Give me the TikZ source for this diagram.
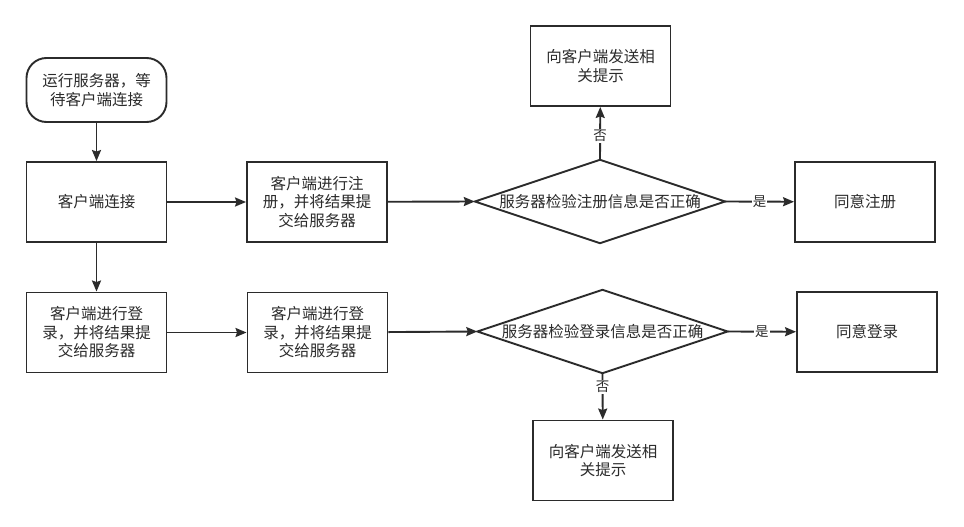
\documentclass[tikz,border=0pt]{standalone}
\usepackage{fontspec}
\newfontfamily\cjk{Noto Sans CJK SC}
\usetikzlibrary{arrows.meta}
\definecolor{ink}{HTML}{2B2B2B}
\tikzset{
  box/.style={draw=ink, line width=1.9pt, text=ink, align=center, minimum width=140pt, minimum height=80pt, inner sep=0pt, font=\cjk\fontsize{15.5}{18.5}\selectfont},
  startbox/.style={box, rounded corners=20pt, minimum height=64pt},
  dia/.style={draw=none, text=ink, align=center, minimum width=250pt, minimum height=83pt, inner sep=0pt, font=\cjk\fontsize{15.5}{18.5}\selectfont},
  conn/.style={draw=ink, line width=1.9pt, -{Stealth[length=11pt,width=9pt,inset=1.5pt]}},
  lab/.style={fill=white, text=ink, inner sep=1pt, font=\cjk\fontsize{13.5}{15}\selectfont}
}
\begin{document}
\begin{tikzpicture}[x=1pt,y=-1pt]
\useasboundingbox[fill=white] (0,0) rectangle (964,527);
\node[startbox] (start) at (96.5,90) {运行服务器，等\\待客户端连接};
\node[box] (cc) at (96.5,202) {客户端连接};
\node[box] (reg) at (317,202) {客户端进行注\\册，并将结果提\\交给服务器};
\node[dia] (d1) at (600,201.5) {服务器检验注册信息是否正确};
\draw[draw=ink, line width=1.9pt, line join=miter] (d1.north) -- (d1.east) -- (d1.south) -- (d1.west) -- cycle;
\node[box] (okr) at (865,202) {同意注册};
\node[box] (tip1) at (600.5,66) {向客户端发送相\\关提示};
\node[box] (ll) at (96.5,332.5) {客户端进行登\\录，并将结果提\\交给服务器};
\node[box] (lm) at (317.5,332.5) {客户端进行登\\录，并将结果提\\交给服务器};
\node[dia] (d2) at (602.5,331.5) {服务器检验登录信息是否正确};
\draw[draw=ink, line width=1.9pt, line join=miter] (d2.north) -- (d2.east) -- (d2.south) -- (d2.west) -- cycle;
\node[box] (okl) at (867,332) {同意登录};
\node[box] (tip2) at (603,460.5) {向客户端发送相\\关提示};

\draw[conn] (start) -- (cc);
\draw[conn] (cc) -- (reg);
\draw[conn] (reg) -- (d1.west);
\draw[conn] (d1.east) -- node[lab]{是} (okr);
\draw[conn] (d1.north) -- node[lab, pos=0.45]{否} (tip1);
\draw[conn] (cc) -- (ll);
\draw[conn] (ll) -- (lm);
\draw[conn] (lm) -- (d2.west);
\draw[conn] (d2.east) -- node[lab]{是} (okl);
\draw[conn] (d2.south) -- node[lab, pos=0.3]{否} (tip2);
\end{tikzpicture}
\end{document}
